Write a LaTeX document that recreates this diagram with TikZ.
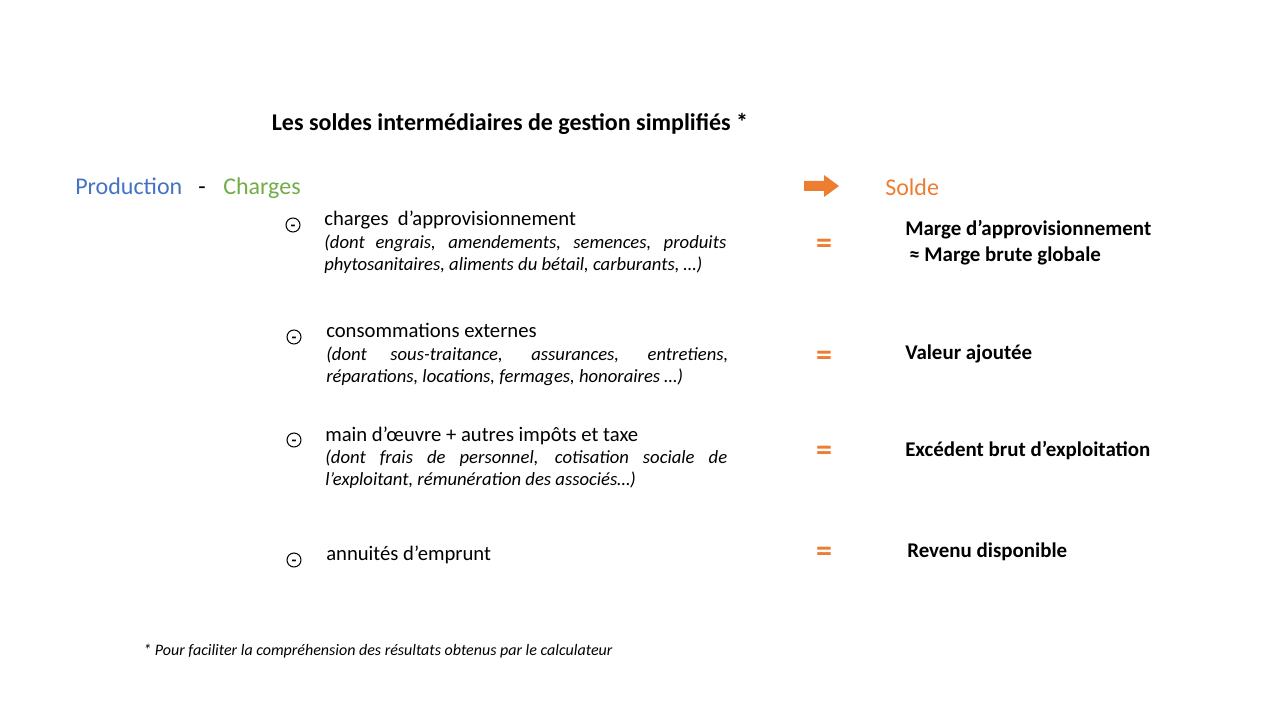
\documentclass[tikz,border=0pt]{standalone}
\usepackage{fontspec}
\setmainfont{Carlito}
\hyphenpenalty=10000
\exhyphenpenalty=10000
\definecolor{prodblue}{HTML}{4472C4}
\definecolor{chgreen}{HTML}{70AD47}
\definecolor{soldeorange}{HTML}{ED7D31}
\tikzset{
  moins/.style={draw, circle, line width=0.8pt, inner sep=0pt, minimum size=10.5pt, text height=0.78em, text depth=0pt, font=\fontsize{12}{12}\selectfont\bfseries},
  poste/.style={anchor=base west, inner sep=0pt, font=\fontsize{15.5}{18}\selectfont},
  detail/.style={anchor=base west, inner sep=0pt, text width=301.5pt, align=justify, font=\fontsize{14}{16.5}\selectfont\itshape},
  egal/.style={inner sep=0pt, text=soldeorange, font=\fontsize{24}{24}\selectfont\bfseries},
  solde/.style={anchor=base west, inner sep=0pt, font=\fontsize{15.7}{18}\selectfont\bfseries},
}
\begin{document}
\begin{tikzpicture}[x=0.75pt,y=0.75pt,yscale=-1,xscale=1]
\useasboundingbox (0,0) rectangle (1280,720);

\node (titre) [anchor=base, inner sep=0pt, font=\fontsize{18}{20}\selectfont\bfseries] at (510,131) {Les soldes intermédiaires de gestion simplifiés *};

\node (prod) [anchor=base west, inner sep=0pt, text=prodblue, font=\fontsize{18}{20}\selectfont] at (75,195) {Production};
\node (tiret) [anchor=base west, inner sep=0pt, font=\fontsize{18}{20}\selectfont] at (198,195) {-};
\node (charges) [anchor=base west, inner sep=0pt, text=chgreen, font=\fontsize{18}{20}\selectfont] at (223,195) {Charges};

\fill [soldeorange] (804,181) -- (824,181) -- (824,175) -- (839,186) -- (824,197) -- (824,191) -- (804,191) -- cycle;
\node (solde) [anchor=base west, inner sep=0pt, text=soldeorange, font=\fontsize{18}{20}\selectfont] at (885,196) {Solde};

% ligne 1
\node (m1) [moins] at (293,225) {-};
\node (p1) [poste] at (324,226) {charges\ \ d’approvisionnement};
\node (d1) [detail] at (324,248) {(dont engrais, amendements, semences, produits phytosanitaires, aliments du bétail, carburants, …)};
\node (e1) [egal] at (824,246) {=};
\node (s1) [solde] at (905,236) {Marge d’approvisionnement};
\node (s1b) [solde] at (909,262) {≈ Marge brute globale};

% ligne 2
\node (m2) [moins] at (294,337) {-};
\node (p2) [poste] at (326,337) {consommations externes};
\node (d2) [detail] at (326,360) {(dont sous-traitance, assurances, entretiens, réparations, locations, fermages, honoraires …)};
\node (e2) [egal] at (824,358) {=};
\node (s2) [solde] at (905,359) {Valeur ajoutée};

% ligne 3
\node (m3) [moins] at (294,440) {-};
\node (p3) [poste] at (325,441) {main d’œuvre + autres impôts et taxe};
\node (d3) [detail] at (325,463) {(dont frais de personnel, cotisation sociale de l’exploitant, rémunération des associés…)};
\node (e3) [egal] at (824,453) {=};
\node (s3) [solde] at (905,456) {Excédent brut d’exploitation};

% ligne 4
\node (m4) [moins] at (294,560) {-};
\node (p4) [poste] at (326,560) {annuités d’emprunt};
\node (e4) [egal] at (824,554) {=};
\node (s4) [solde] at (907,557) {Revenu disponible};

\node (note) [anchor=base west, inner sep=0pt, font=\fontsize{12}{14}\selectfont\itshape] at (143,655) {* Pour faciliter la compréhension des résultats obtenus par le calculateur};

\end{tikzpicture}
\end{document}
